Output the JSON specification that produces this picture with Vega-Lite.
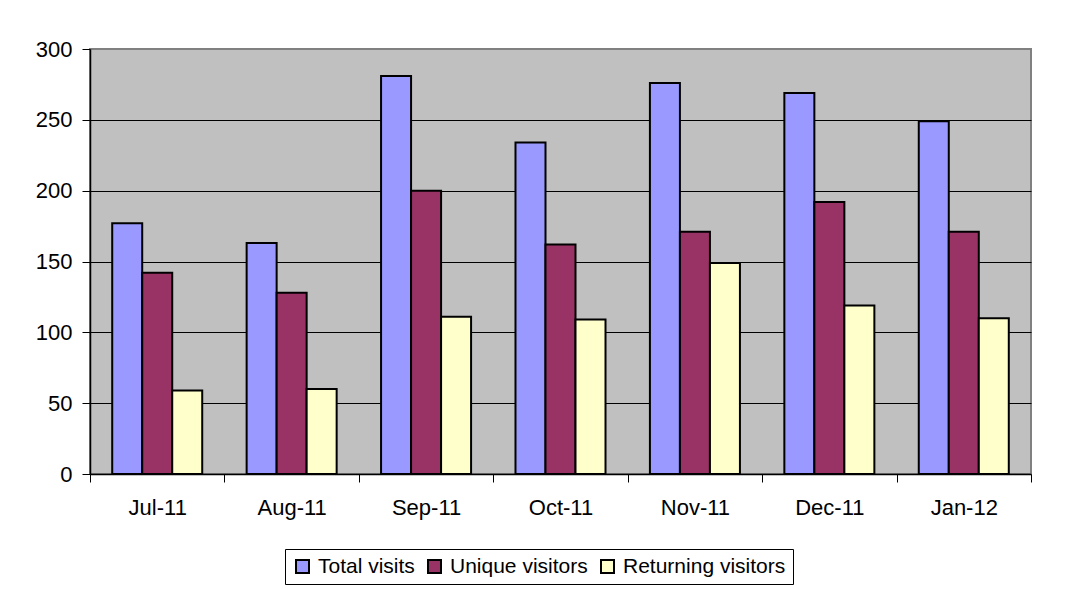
{
  "$schema": "https://vega.github.io/schema/vega-lite/v6.json",
  "autosize": "none",
  "width": 941,
  "height": 425,
  "padding": {"left": 90, "top": 49, "right": 53, "bottom": 115},
  "background": "white",
  "config": {
    "font": "Liberation Sans",
    "view": {"fill": "#C0C0C0", "stroke": "#808080", "strokeWidth": 2}
  },
  "data": {
    "values": [
      {"month": "Jul-11", "series": "Total visits", "value": 177},
      {"month": "Jul-11", "series": "Unique visitors", "value": 142},
      {"month": "Jul-11", "series": "Returning visitors", "value": 59},
      {"month": "Aug-11", "series": "Total visits", "value": 163},
      {"month": "Aug-11", "series": "Unique visitors", "value": 128},
      {"month": "Aug-11", "series": "Returning visitors", "value": 60},
      {"month": "Sep-11", "series": "Total visits", "value": 281},
      {"month": "Sep-11", "series": "Unique visitors", "value": 200},
      {"month": "Sep-11", "series": "Returning visitors", "value": 111},
      {"month": "Oct-11", "series": "Total visits", "value": 234},
      {"month": "Oct-11", "series": "Unique visitors", "value": 162},
      {"month": "Oct-11", "series": "Returning visitors", "value": 109},
      {"month": "Nov-11", "series": "Total visits", "value": 276},
      {"month": "Nov-11", "series": "Unique visitors", "value": 171},
      {"month": "Nov-11", "series": "Returning visitors", "value": 149},
      {"month": "Dec-11", "series": "Total visits", "value": 269},
      {"month": "Dec-11", "series": "Unique visitors", "value": 192},
      {"month": "Dec-11", "series": "Returning visitors", "value": 119},
      {"month": "Jan-12", "series": "Total visits", "value": 249},
      {"month": "Jan-12", "series": "Unique visitors", "value": 171},
      {"month": "Jan-12", "series": "Returning visitors", "value": 110}
    ]
  },
  "mark": {"type": "bar", "stroke": "#000000", "strokeWidth": 2},
  "encoding": {
    "x": {
      "field": "month",
      "type": "nominal",
      "sort": ["Jul-11", "Aug-11", "Sep-11", "Oct-11", "Nov-11", "Dec-11", "Jan-12"],
      "scale": {"paddingInner": 0, "paddingOuter": 0},
      "axis": {
        "title": null,
        "labelAngle": 0,
        "labelFontSize": 22,
        "labelColor": "#000000",
        "labelPadding": 15,
        "tickBand": "extent",
        "tickColor": "#000000",
        "tickSize": 8,
        "domainColor": "#000000",
        "domainWidth": 1.5
      }
    },
    "xOffset": {
      "field": "series",
      "type": "nominal",
      "sort": ["Total visits", "Unique visitors", "Returning visitors"],
      "scale": {"paddingInner": 0, "paddingOuter": 0.74}
    },
    "y": {
      "field": "value",
      "type": "quantitative",
      "scale": {"domain": [0, 300], "nice": false},
      "axis": {
        "title": null,
        "values": [0, 50, 100, 150, 200, 250, 300],
        "labelFontSize": 22,
        "labelColor": "#000000",
        "labelPadding": 10,
        "tickColor": "#000000",
        "tickSize": 8,
        "domainColor": "#000000",
        "domainWidth": 1.5,
        "grid": true,
        "gridColor": {"condition": {"test": "datum.value === 300 || datum.value === 0", "value": "#808080"}, "value": "#000000"},
        "gridWidth": 1
      }
    },
    "color": {
      "field": "series",
      "type": "nominal",
      "sort": ["Total visits", "Unique visitors", "Returning visitors"],
      "scale": {
        "domain": ["Total visits", "Unique visitors", "Returning visitors"],
        "range": ["#9999FF", "#993366", "#FFFFCC"]
      },
      "legend": {
        "title": null,
        "orient": "none",
        "legendX": 195,
        "legendY": 500,
        "direction": "horizontal",
        "labelFontSize": 21,
        "labelColor": "#000000",
        "labelLimit": 400,
        "labelOffset": 5,
        "symbolType": "square",
        "symbolSize": 169,
        "symbolStrokeColor": "#000000",
        "symbolStrokeWidth": 2,
        "columnPadding": 9,
        "padding": 7,
        "strokeColor": "#000000",
        "fillColor": "#FFFFFF"
      }
    }
  }
}
